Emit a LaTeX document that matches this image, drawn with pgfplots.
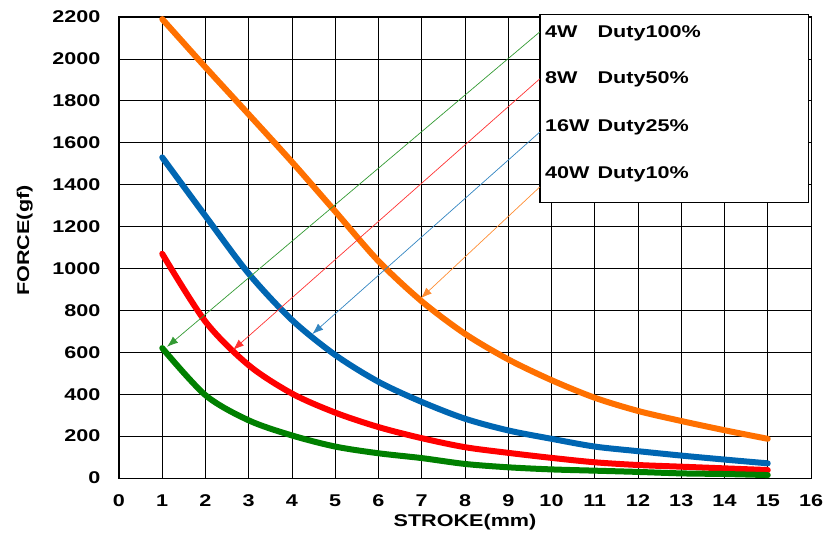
\documentclass[border=0pt]{standalone}
\usepackage{pgfplots}
\pgfplotsset{compat=1.18}
\usepackage{fontspec}
\setmainfont{Liberation Sans}[FakeStretch=1.27]
\usetikzlibrary{arrows.meta}
\definecolor{cOrange}{RGB}{255,112,0}
\definecolor{cBlue}{RGB}{0,102,178}
\definecolor{cRed}{RGB}{255,0,0}
\definecolor{cGreen}{RGB}{0,128,0}
\newcommand{\cf}{\fontsize{17bp}{20bp}\selectfont\bfseries}
\begin{document}
\begin{tikzpicture}
\begin{axis}[
  scale only axis, width=692bp, height=461bp,
  xmin=0, xmax=16, ymin=0, ymax=2200,
  xtick={0,1,...,16}, ytick={0,200,...,2200},
  grid=major, major grid style={black, line width=0.7bp},
  axis line style={black, line width=1bp},
  major tick length=0pt,
  tick label style={font=\cf},
  /pgf/number format/assume math mode=true,
  /pgf/number format/1000 sep={},
  yticklabel style={xshift=-15bp},
  xticklabel style={yshift=-13bp},
  xlabel={STROKE(mm)}, ylabel={FORCE(gf)},
  every axis x label/.style={at={(rel axis cs:0.5,-0.095)}, anchor=center, font=\cf},
  every axis y label/.style={at={(rel axis cs:-0.136,0.515)}, rotate=90, anchor=center, font=\cf},
  clip=false,
]
\addplot[cOrange, line width=6bp, smooth, line cap=round] coordinates {
 (1,2190) (2,1960) (3,1735) (4,1508) (5,1272) (6,1035) (7,843) (8,688)
 (9,566) (10,467) (11,383) (12,320) (13,272) (14,228) (15,187)};
\addplot[cBlue, line width=6bp, smooth, line cap=round] coordinates {
 (1,1530) (2,1250) (3,975) (4,754) (5,587) (6,459) (7,363) (8,283)
 (9,227) (10,187) (11,150) (12,128) (13,107) (14,88) (15,70)};
\addplot[cRed, line width=6bp, smooth, line cap=round] coordinates {
 (1,1070) (2,746) (3,538) (4,403) (5,312) (6,243) (7,190) (8,147)
 (9,120) (10,96) (11,75) (12,62) (13,54) (14,46) (15,38)};
\addplot[cGreen, line width=6bp, smooth, line cap=round] coordinates {
 (1,620) (2,395) (3,275) (4,203) (5,150) (6,118) (7,95) (8,67)
 (9,51) (10,41) (11,35) (12,29) (13,22) (14,19) (15,14)};
\draw[line width=1.5bp, fill=white] (axis cs:9.73,1314) rectangle (axis cs:15.94,2212);
\draw[cGreen!80, line width=0.7bp, -{Latex[length=11bp,width=8bp]}] (axis cs:9.73,2129) -- (axis cs:1.11,626);
\draw[cRed!80, line width=0.7bp, -{Latex[length=11bp,width=8bp]}] (axis cs:9.73,1905) -- (axis cs:2.635,611);
\draw[cBlue!80, line width=0.7bp, -{Latex[length=11bp,width=8bp]}] (axis cs:9.73,1651) -- (axis cs:4.47,687);
\draw[cOrange!80, line width=0.7bp, -{Latex[length=11bp,width=8bp]}] (axis cs:9.73,1389) -- (axis cs:6.98,858);
\node[anchor=base west, inner sep=0, font=\cf] at (axis cs:9.85,2101) {4W};
\node[anchor=base west, inner sep=0, font=\cf] at (axis cs:11.06,2101) {Duty100\%};
\node[anchor=base west, inner sep=0, font=\cf] at (axis cs:9.85,1882) {8W};
\node[anchor=base west, inner sep=0, font=\cf] at (axis cs:11.06,1882) {Duty50\%};
\node[anchor=base west, inner sep=0, font=\cf] at (axis cs:9.85,1655) {16W};
\node[anchor=base west, inner sep=0, font=\cf] at (axis cs:11.06,1655) {Duty25\%};
\node[anchor=base west, inner sep=0, font=\cf] at (axis cs:9.85,1429) {40W};
\node[anchor=base west, inner sep=0, font=\cf] at (axis cs:11.06,1429) {Duty10\%};
\end{axis}
\pgfresetboundingbox
\path[use as bounding box] ([xshift=-119bp,yshift=-63bp]current axis.south west) rectangle ([xshift=12bp,yshift=17bp]current axis.north east);
\end{tikzpicture}
\end{document}
